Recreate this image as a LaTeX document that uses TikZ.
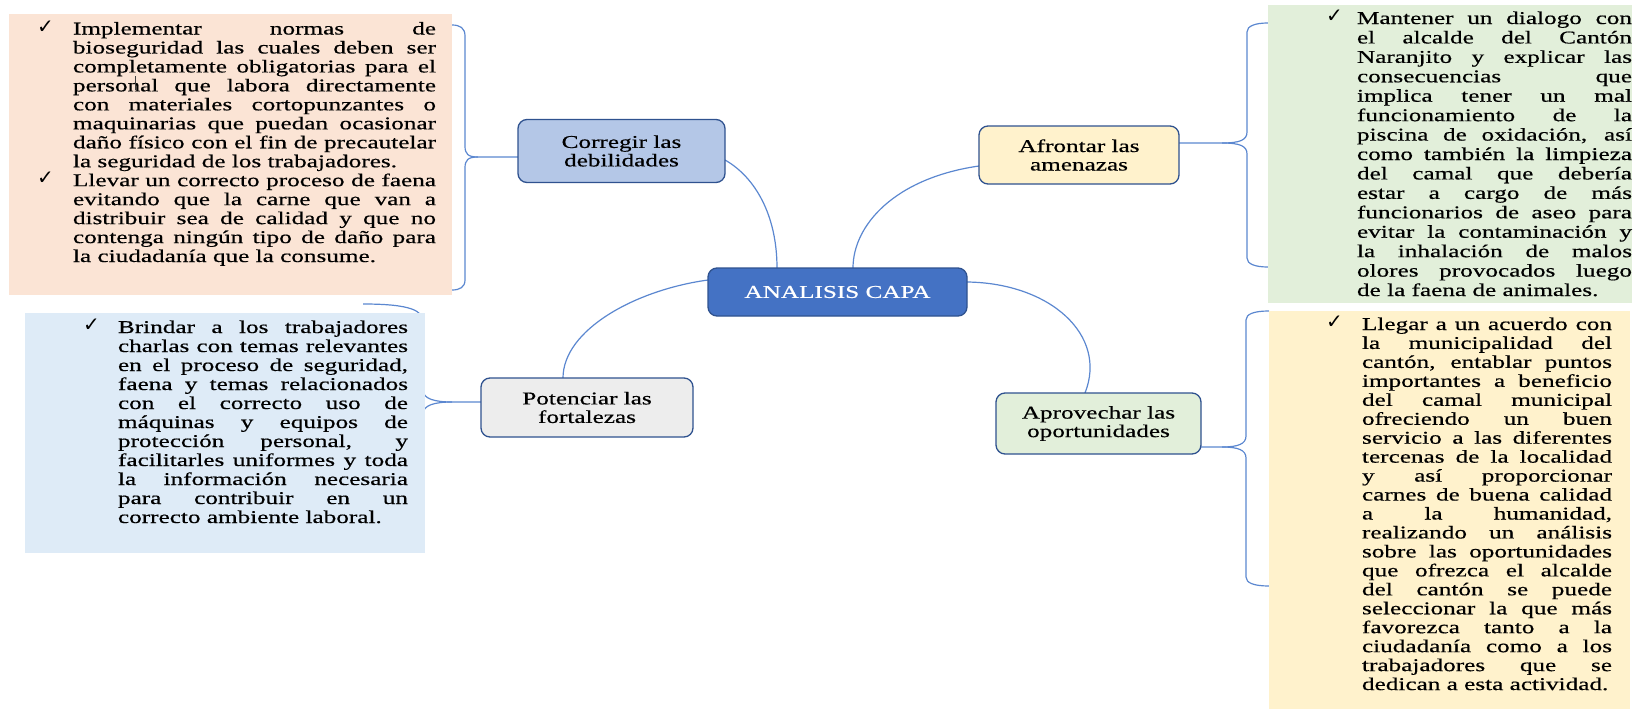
\documentclass[tikz,border=0pt]{standalone}
\usepackage{fontspec}
\setmainfont{Liberation Serif}[FakeStretch=1.40,FakeBold=0.5]
\newfontfamily\symf{DejaVu Sans}
\usetikzlibrary{calc}
\pgfdeclarelayer{bg}
\pgfsetlayers{bg,main}
\definecolor{peach}{HTML}{FBE4D5}
\definecolor{sage}{HTML}{E2EFDA}
\definecolor{cream}{HTML}{FFF2CC}
\definecolor{sky}{HTML}{DEEBF7}
\definecolor{corfill}{HTML}{B4C7E7}
\definecolor{potfill}{HTML}{EDEDED}
\definecolor{hub}{HTML}{4472C4}
\definecolor{edgeblue}{HTML}{2F528F}
\definecolor{connblue}{HTML}{5B87D0}
\newdimen\colw
\newcommand\J[1]{\hbox to \colw{#1}}
\newcommand\Lst[1]{\hbox{#1}}
\newcommand\panel[3]{\vtop{\colw=#1\relax\baselineskip=#2\relax\lineskiplimit=-20pt\relax #3}}
\tikzset{
  txt/.style={inner sep=0pt, outer sep=0pt, font=\fontsize{18}{19}\selectfont},
  chk/.style={inner sep=0pt, outer sep=0pt, font=\symf\fontsize{20}{20}\selectfont},
  panelbox/.style={draw=none, inner sep=0pt, outer sep=0pt},
  topic/.style={draw=edgeblue, line width=1.3pt, rounded corners=9pt, align=center,
    inner sep=0pt, outer sep=0pt, font=\fontsize{18}{18.5}\selectfont},
  conn/.style={draw=connblue, line width=1.2pt}
}
\begin{document}
\begin{tikzpicture}[x=1pt,y=-1pt]
\useasboundingbox (0,0) rectangle (1634,712);
% panels
\node[panelbox, fill=peach, minimum width=443pt, minimum height=281pt] (pp) at (230.5,154.5) {};
\node[panelbox, fill=sage, minimum width=364pt, minimum height=298pt] (gp) at (1450,154) {};
\node[panelbox, fill=cream, minimum width=361pt, minimum height=398pt] (yp) at (1449.5,510) {};
\node[panelbox, fill=sky, minimum width=400pt, minimum height=240pt] (bp) at (225,433) {};
% topic boxes
\node[topic, fill=corfill, minimum width=207pt, minimum height=63pt] (cor) at (621.5,151) {Corregir las\\debilidades};
\node[topic, fill=cream, minimum width=200pt, minimum height=58pt] (afr) at (1079,155) {Afrontar las\\amenazas};
\node[topic, fill=hub, text=white, minimum width=259pt, minimum height=48pt] (ana) at (837.5,292) {ANALISIS CAPA};
\node[topic, fill=potfill, minimum width=212pt, minimum height=59pt] (pot) at (587,407.5) {Potenciar las\\fortalezas};
\node[topic, fill=sage, minimum width=205pt, minimum height=61pt] (apr) at (1098.5,423.5) {Aprovechar las\\oportunidades};
% texts
\node[chk, anchor=base west] (c1) at (37,33) {✓};
\node[chk, anchor=base west] (c2) at (37,184.7) {✓};
\node[txt, anchor=base west] (tp) at (73,34.5) {\panel{363pt}{18.96pt}{%
\J{Implementar normas de}
\J{bioseguridad las cuales deben ser}
\J{completamente obligatorias para el}
\J{personal que labora directamente}
\J{con materiales cortopunzantes o}
\J{maquinarias que puedan ocasionar}
\J{daño físico con el fin de precautelar}
\Lst{la seguridad de los trabajadores.}
\J{Llevar un correcto proceso de faena}
\J{evitando que la carne que van a}
\J{distribuir sea de calidad y que no}
\J{contenga ningún tipo de daño para}
\Lst{la ciudadanía que la consume.}}};
\draw[line width=0.7pt, black!75] (135,76) -- (135,90);
\node[chk, anchor=base west] (c3) at (1326,22.5) {✓};
\node[txt, anchor=base west] (tg) at (1357,24) {\panel{275pt}{19.43pt}{%
\J{Mantener un dialogo con}
\J{el alcalde del Cantón}
\J{Naranjito y explicar las}
\J{consecuencias que}
\J{implica tener un mal}
\J{funcionamiento de la}
\J{piscina de oxidación, así}
\J{como también la limpieza}
\J{del camal que debería}
\J{estar a cargo de más}
\J{funcionarios de aseo para}
\J{evitar la contaminación y}
\J{la inhalación de malos}
\J{olores provocados luego}
\Lst{de la faena de animales.}}};
\node[chk, anchor=base west] (c4) at (1326,328.5) {✓};
\node[txt, anchor=base west] (ty) at (1362,330) {\panel{250pt}{18.95pt}{%
\J{Llegar a un acuerdo con}
\J{la municipalidad del}
\J{cantón, entablar puntos}
\J{importantes a beneficio}
\J{del camal municipal}
\J{ofreciendo un buen}
\J{servicio a las diferentes}
\J{tercenas de la localidad}
\J{y así proporcionar}
\J{carnes de buena calidad}
\J{a la humanidad,}
\J{realizando un análisis}
\J{sobre las oportunidades}
\J{que ofrezca el alcalde}
\J{del cantón se puede}
\J{seleccionar la que más}
\J{favorezca tanto a la}
\J{ciudadanía como a los}
\J{trabajadores que se}
\Lst{dedican a esta actividad.}}};
\node[chk, anchor=base west] (c5) at (83,331.5) {✓};
\node[txt, anchor=base west] (tb) at (118,333) {\panel{290pt}{19pt}{%
\J{Brindar a los trabajadores}
\J{charlas con temas relevantes}
\J{en el proceso de seguridad,}
\J{faena y temas relacionados}
\J{con el correcto uso de}
\J{máquinas y equipos de}
\J{protección personal, y}
\J{facilitarles uniformes y toda}
\J{la información necesaria}
\J{para contribuir en un}
\Lst{correcto ambiente laboral.}}};
% brace tips
\coordinate (pT) at (452,25);
\coordinate (pB) at (452,290);
\coordinate (gT) at (1268,23);
\coordinate (gB) at (1268,267);
\coordinate (yT) at (1269,311);
\coordinate (yB) at (1269,586);
\coordinate (bT) at (363,304);
\coordinate (bB) at (370,500);
\begin{pgfonlayer}{bg}
% hub connectors
\draw[conn] ($(cor.east)+(0,9)$) .. controls (755,177) and (777,215) .. ($(ana.north)+(-60.5,0)$);
\draw[conn] ($(ana.north)+(15.5,0)$) .. controls (853,225) and (895,178) .. ($(afr.west)+(0,11)$);
\draw[conn] ($(ana.west)+(0,-12)$) .. controls (635,290) and (563,330) .. ($(pot.north)+(-24,0)$);
\draw[conn] ($(ana.east)+(0,-10)$) .. controls (1050,283) and (1108,335) .. ($(apr.north)+(-13.5,0)$);
% braces
\draw[conn] ($(cor.west)+(0,6)$) -- (478,157) .. controls (468,157) and (465,154) .. (465,146) -- (465,36) .. controls (465,28) and (460,25) .. (pT);
\draw[conn] (478,157) .. controls (468,157) and (465,160) .. (465,168) -- (465,280) .. controls (465,287) and (460,290) .. (pB);
\draw[conn] ($(afr.east)+(0,-12)$) -- (1222,143) .. controls (1240,143) and (1247,140) .. (1247,132) -- (1247,32) .. controls (1247,26) and (1255,23) .. (gT);
\draw[conn] (1222,143) .. controls (1240,143) and (1247,146) .. (1247,154) -- (1247,258) .. controls (1247,264) and (1255,267) .. (gB);
\draw[conn] ($(apr.east)+(0,23.5)$) -- (1222,447) .. controls (1238,447) and (1246,444) .. (1246,436) -- (1246,320) .. controls (1246,314) and (1254,311) .. (yT);
\draw[conn] (1222,447) .. controls (1238,447) and (1246,450) .. (1246,458) -- (1246,577) .. controls (1246,583) and (1254,586) .. (yB);
\draw[conn] ($(pot.west)+(0,-5.5)$) -- (452,402) .. controls (435,402) and (423,399) .. (423,390) -- (423,322) .. controls (423,311) and (412,304) .. (bT);
\draw[conn] (452,402) .. controls (435,402) and (423,405) .. (423,414) -- (423,490) .. controls (423,498) and (400,500) .. (bB);
\end{pgfonlayer}
\end{tikzpicture}
\end{document}
